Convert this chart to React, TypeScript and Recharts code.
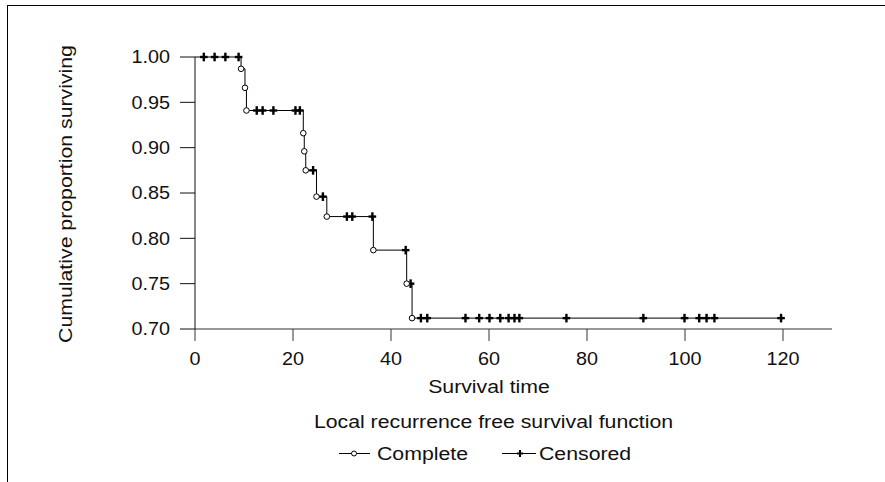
import { ComposedChart, Line, Scatter, XAxis, YAxis } from 'recharts';

// survival times (months) where an event happened, and the KM estimate right after it
const eventTimes = [9.4, 10.2, 10.5, 22.1, 22.3, 22.6, 24.8, 26.9, 36.4, 43.2, 44.3];
const eventSurvival = [0.987, 0.966, 0.941, 0.916, 0.896, 0.875, 0.846, 0.824, 0.787, 0.75, 0.712];

// censored observations
const censoredTimes = [
  1.8, 4.0, 6.2, 8.9, 12.6, 13.8, 16.0, 20.5, 21.4, 24.1, 26.1, 31.0, 32.1, 36.2, 43.0, 44.0,
  46.1, 47.4, 55.2, 58.0, 60.1, 62.3, 64.0, 65.2, 66.2, 75.8, 91.5, 99.9, 102.9, 104.4, 106.0, 119.6,
];

const xTicks = [0, 20, 40, 60, 80, 100, 120];
const yTicks = [0.7, 0.75, 0.8, 0.85, 0.9, 0.95, 1.0];

const FONT = '"Liberation Sans", Arial, Helvetica, sans-serif';

const survivalAt = (t: number) => {
  let s = 1;
  eventTimes.forEach((et, i) => {
    if (et <= t) s = eventSurvival[i];
  });
  return s;
};

const events = eventTimes.map((t, i) => ({ t, s: eventSurvival[i] }));
const censored = censoredTimes.map((t) => ({ t, s: survivalAt(t) }));
const lastTime = censoredTimes[censoredTimes.length - 1];
const curve = [{ t: 0, s: 1 }, ...events, { t: lastTime, s: survivalAt(lastTime) }];

const Circle = ({ cx, cy }: any) => (
  <circle cx={cx} cy={cy} r={2.8} fill="#fff" stroke="#000" strokeWidth={1} />
);

const Plus = ({ cx, cy }: any) => (
  <g stroke="#000" strokeWidth={2.4}>
    <line x1={cx - 3.8} y1={cy} x2={cx + 3.8} y2={cy} />
    <line x1={cx} y1={cy - 4.3} x2={cx} y2={cy + 4.3} />
  </g>
);

const XTick = ({ x, y, payload }: any) => (
  <g transform={`translate(${x},${y}) scale(1.1,1)`}>
    <text x={0} y={0} dy="0.71em" textAnchor="middle" fontSize={18} fontFamily={FONT} fill="#111">
      {payload.value}
    </text>
  </g>
);

const YTick = ({ x, y, payload }: any) => (
  <g transform={`translate(${x},${y}) scale(1.1,1)`}>
    <text x={0} y={0} dy="0.36em" textAnchor="end" fontSize={18} fontFamily={FONT} fill="#111">
      {Number(payload.value).toFixed(2)}
    </text>
  </g>
);

const textStyle = { fontSize: 18.5, fontFamily: FONT, fill: '#111' };

export default function App() {
  return (
    <div style={{ position: 'absolute', left: 0, top: 0, width: 885, height: 482, background: '#fff' }}>
      <div
        style={{
          position: 'absolute',
          left: 7,
          top: 5,
          right: 0,
          bottom: 0,
          borderTop: '1px solid #000',
          borderLeft: '1px solid #000',
        }}
      />
      <div style={{ position: 'absolute', left: 0, top: 0 }}>
        <ComposedChart width={885} height={482} margin={{ top: 57, right: 53, bottom: 93, left: 0 }}>
          <XAxis
            type="number"
            dataKey="t"
            domain={[0, 130]}
            ticks={xTicks}
            height={60}
            tickSize={12}
            tickMargin={11}
            stroke="#333"
            tick={<XTick />}
            label={() => (
              <g transform="translate(489,393) scale(1.15,1)">
                <text x={0} y={0} textAnchor="middle" {...textStyle}>Survival time</text>
              </g>
            )}
          />
          <YAxis
            type="number"
            dataKey="s"
            domain={[0.7, 1.0]}
            ticks={yTicks}
            width={195}
            tickSize={15}
            tickMargin={10}
            stroke="#111"
            tick={<YTick />}
            label={() => (
              <g transform="translate(71.5,194) rotate(-90) scale(1.15,1)">
                <text x={0} y={0} textAnchor="middle" {...textStyle}>Cumulative proportion surviving</text>
              </g>
            )}
          />
          <Line
            data={curve}
            dataKey="s"
            type="stepAfter"
            stroke="#000"
            strokeWidth={1}
            dot={false}
            activeDot={false}
            isAnimationActive={false}
          />
          <Scatter data={censored} dataKey="s" shape={<Plus />} isAnimationActive={false} />
          <Scatter data={events} dataKey="s" shape={<Circle />} isAnimationActive={false} />
        </ComposedChart>
      </div>
      <svg width={885} height={482} style={{ position: 'absolute', left: 0, top: 0, pointerEvents: 'none' }}>
        <g transform="translate(493.5,428) scale(1.15,1)">
          <text x={0} y={0} textAnchor="middle" {...textStyle}>Local recurrence free survival function</text>
        </g>
        <line x1={339} y1={453.5} x2={370} y2={453.5} stroke="#000" strokeWidth={1} />
        <circle cx={354} cy={453.5} r={2.5} fill="#fff" stroke="#000" strokeWidth={1} />
        <g transform="translate(377,460) scale(1.15,1)">
          <text x={0} y={0} {...textStyle}>Complete</text>
        </g>
        <line x1={502} y1={453.5} x2={536} y2={453.5} stroke="#000" strokeWidth={1} />
        <g stroke="#000" strokeWidth={2}>
          <line x1={517} y1={453.5} x2={523} y2={453.5} />
          <line x1={520} y1={450} x2={520} y2={457} />
        </g>
        <g transform="translate(539,460) scale(1.15,1)">
          <text x={0} y={0} {...textStyle}>Censored</text>
        </g>
      </svg>
    </div>
  );
}
